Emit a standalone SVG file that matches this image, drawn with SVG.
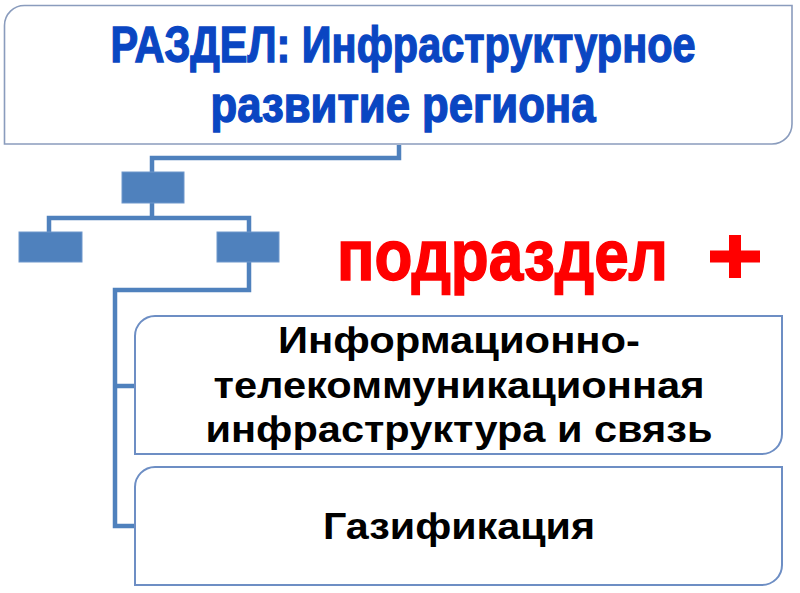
<svg xmlns="http://www.w3.org/2000/svg" width="800" height="593" viewBox="0 0 800 593">
<style>
.box{fill:#fff;stroke:#6d8ec4;stroke-width:2}
.top{fill:#fff;stroke:#8a9cbd;stroke-width:1.6}
.blk{fill:#4f81bd;stroke:#6f97cc;stroke-width:1}
.con{fill:none;stroke:#4f81bd;stroke-width:4.5;stroke-linejoin:miter}
.t1{font-family:"Liberation Sans",Arial,sans-serif;font-weight:bold;fill:#0a46c2;stroke:#0a46c2;stroke-width:1.4;text-anchor:middle}
.t2{font-family:"Liberation Sans",Arial,sans-serif;font-weight:bold;fill:#000;text-anchor:middle;font-size:36px}
.t3{font-family:"Liberation Sans",Arial,sans-serif;font-weight:bold;fill:#ff0000;stroke:#ff0000;stroke-width:1.6}
</style>
<rect width="800" height="593" fill="#fff"/>
<g id="connectors">
<path class="con" d="M399 145 V158 H152 V172"/>
<path class="con" d="M152 203 V218 H49 V232 M152 218 H249 V232"/>
<path class="con" d="M249 262 V290 H115 V526 H135 M115 386 H135"/>
</g>
<g id="section">
<path class="top" d="M25 5.5 H792 V124 A20 20 0 0 1 772 144 H4.5 V25.5 A20 20 0 0 1 25 5.5 Z"/>
<text class="t1" x="403" y="62" font-size="50" textLength="585" lengthAdjust="spacingAndGlyphs">РАЗДЕЛ: Инфраструктурное</text>
<text class="t1" x="403" y="122" font-size="50" textLength="385" lengthAdjust="spacingAndGlyphs">развитие региона</text>
</g>
<g id="org-top"><rect class="blk" x="122" y="172" width="62" height="31"/></g>
<g id="org-left"><rect class="blk" x="19" y="232" width="63" height="30"/></g>
<g id="org-right"><rect class="blk" x="217" y="232" width="62" height="30"/></g>
<g id="subsection-label">
<text class="t3" x="337" y="280" font-size="72" textLength="331" lengthAdjust="spacingAndGlyphs">подраздел</text>
<path d="M729 235 H741 V250.5 H760 V262.5 H741 V278 H729 V262.5 H710 V250.5 H729 Z" fill="#ff0000"/>
</g>
<g id="box-telecom">
<path class="box" d="M155 316 H782 V434 A20 20 0 0 1 762 454 H135 V336 A20 20 0 0 1 155 316 Z"/>
<text class="t2" x="459" y="353" textLength="362" lengthAdjust="spacingAndGlyphs">Информационно-</text>
<text class="t2" x="459" y="398" textLength="491" lengthAdjust="spacingAndGlyphs">телекоммуникационная</text>
<text class="t2" x="459" y="442" textLength="507" lengthAdjust="spacingAndGlyphs">инфраструктура и связь</text>
</g>
<g id="box-gas">
<path class="box" d="M155 467 H782 V565 A20 20 0 0 1 762 585 H135 V487 A20 20 0 0 1 155 467 Z"/>
<text class="t2" x="459" y="539" textLength="272" lengthAdjust="spacingAndGlyphs">Газификация</text>
</g>
</svg>
